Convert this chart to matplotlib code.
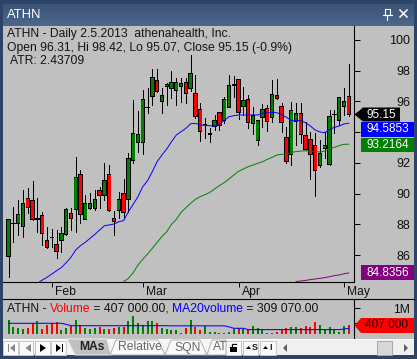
import numpy as np
import matplotlib
matplotlib.use("Agg")
import matplotlib.pyplot as plt
from matplotlib.patches import Polygon, Rectangle

plt.rcParams['font.family'] = ['Liberation Sans', 'DejaVu Sans']

opens = [85.89,88.06,88.06,87.85,89.69,89.52,88.35,88.54,86.91,87.16,86.70,86.94,87.35,88.71,88.98,91.21,88.32,89.04,89.04,90.17,89.87,91.21,88.39,88.89,89.97,89.63,
         92.19,93.32,93.32,95.59,96.31,97.33,95.99,96.96,96.85,96.70,96.96,97.24,96.85,96.53,95.49,94.49,93.88,94.36,95.27,94.79,95.62,97.07,97.40,95.70,96.14,94.57,93.45,94.97,95.55,94.97,96.38,95.66,93.66,92.58,94.68,95.23,93.75,93.49,93.14,91.82,92.93,91.90,95.14,94.75,95.70,96.31]
highs = [88.30,89.15,89.58,90.23,90.34,90.82,89.69,88.82,87.85,87.67,87.63,87.85,89.04,89.04,92.40,91.54,89.91,90.02,90.23,90.45,91.97,91.86,88.89,90.13,90.95,92.62,
         96.09,95.38,96.74,96.85,98.11,98.11,96.90,97.18,97.98,97.50,97.50,97.50,99.02,97.72,95.88,94.90,94.25,95.12,95.27,96.31,97.72,97.66,97.44,96.92,96.42,95.66,94.75,95.83,95.77,97.40,97.44,95.88,94.31,95.99,95.88,95.92,94.68,94.03,93.92,93.49,94.03,95.44,95.44,96.31,96.85,98.42]
lows = [84.59,86.87,87.30,87.20,88.71,88.28,87.48,86.65,86.44,86.54,85.79,86.22,87.30,87.63,87.52,88.06,88.32,88.98,88.93,89.04,89.58,88.89,87.30,88.39,88.39,88.82,
        92.01,92.73,92.58,95.23,95.77,96.59,95.27,95.77,96.20,95.77,95.99,95.88,96.70,94.90,93.45,93.60,93.38,94.14,94.14,94.62,95.62,96.31,94.84,95.12,94.25,93.88,93.16,94.36,94.10,94.68,96.16,94.03,91.97,91.86,93.16,93.27,92.84,90.93,89.84,91.75,92.30,91.86,93.92,94.47,95.12,95.07]
closes = [88.28,88.06,88.61,89.37,89.11,88.32,88.35,87.41,86.48,87.15,86.22,87.41,88.98,88.39,91.06,88.65,89.37,89.37,89.63,89.87,90.82,88.89,88.17,89.63,88.76,92.30,
          93.92,93.81,96.09,95.59,97.57,96.64,96.35,97.11,97.24,97.24,97.18,96.53,97.83,95.05,94.08,94.49,93.88,94.75,94.47,96.09,97.00,97.07,95.27,96.05,94.64,95.07,94.73,95.49,94.68,96.46,96.20,94.64,92.08,95.40,95.23,93.88,92.88,92.56,91.49,92.62,93.10,95.03,95.14,96.27,96.01,95.15]

ma_blue = [84.16,84.37,84.55,84.76,84.98,85.18,85.50,85.85,86.33,86.61,86.83,87.09,87.35,87.63,87.91,87.96,88.02,88.17,88.24,88.82,89.30,89.80,90.45,90.84,
           91.43,92.08,92.51,92.90,93.38,93.81,94.03,94.25,94.55,94.57,94.47,94.44,94.42,94.40,94.53,94.75,95.01,95.07,95.12,95.12,95.12,95.12,95.12,95.23,95.27,95.27,95.27,95.12,94.97,94.75,94.75,94.75,94.62,94.40,94.14,94.01,93.97,94.18,94.31,94.40,94.53,94.5853]
ma_green = [84.27,84.48,84.85,85.35,85.72,86.07,86.44,86.83,87.20,87.52,88.00,88.32,88.78,89.08,89.37,89.63,89.80,89.93,90.08,90.30,90.52,90.71,90.95,91.21,91.45,91.60,91.75,91.86,91.97,92.08,92.23,92.36,92.51,92.56,92.58,92.69,92.73,92.77,92.79,92.77,92.73,92.71,92.77,92.92,93.01,93.12,93.21,93.2164]
ma_purple = [84.27,84.31,84.35,84.40,84.44,84.48,84.53,84.59,84.66,84.70,84.78,84.8356]

volume_k = [597,367,310,286,310,482,562,286,424,482,540,252,332,402,597,424,310,286,332,344,286,286,332,344,367,574,735,482,424,574,574,482,310,286,252,252,160,332,597,367,252,390,
            172,172,160,160,194,286,310,286,286,390,332,252,160,160,194,286,332,367,344,310,390,344,528,424,286,344,275,194,390,407]
ma_volume_k = [483]*12 + [448] + [400]*21 + [395]*12 + [360,310,310,310] + [265]*20 + [285,309.07]

month_labels = ['Feb', 'Mar', 'Apr', 'May']
month_bars = [9, 28, 48, 70]
price_ticks = [86, 88, 90, 92, 94, 96, 98, 100]
hidden_price_labels = [94]
volume_ticks = [500, 1000]
volume_tick_labels = ['', '1M']
volume_floor = 114
last_close, last_ma20, last_ma50, last_ma200, last_vol = 95.15, 94.5853, 93.2164, 84.8356, 407

W, H = 417, 359
BG = '#c0c0c0'
UP, DOWN = '#008000', '#ff0000'
fs = 8.75
n = len(opens)
x = np.arange(n)

fig = plt.figure(figsize=(W/100, H/100), dpi=100, facecolor='#2e4466')

def box(l, t, r, b):
    return [l/W, 1-b/H, (r-l)/W, (b-t)/H]

# frame and window chrome in pixel coordinates
deco = fig.add_axes([0, 0, 1, 1], zorder=0)
deco.set_xlim(0, W); deco.set_ylim(H, 0); deco.axis('off')
grad = np.linspace(0, 1, 24)[:, None]
deco.imshow(grad, extent=(3, 414, 26, 4), cmap=matplotlib.colors.LinearSegmentedColormap.from_list('t', ['#3d5378', '#4c668c']),
            aspect='auto', zorder=1)
deco.set_xlim(0, W); deco.set_ylim(H, 0)
deco.add_patch(Rectangle((3, 26), 411, 314, fc=BG, ec='none', zorder=1))
deco.add_patch(Rectangle((3, 339), 411, 16, fc='#f4f4f4', ec='none', zorder=1))
deco.text(7, 15.5, 'ATHN', color='white', fontsize=9.4, va='center', ha='left', zorder=3)
# close and pin glyphs
deco.plot([400, 407], [10, 17], color='white', lw=1.1, zorder=3)
deco.plot([407, 400], [10, 17], color='white', lw=1.1, zorder=3)
deco.plot([385, 390, 390, 385, 385], [9, 9, 15, 15, 9], color='white', lw=0.8, zorder=3)
deco.plot([383, 392], [15, 15], color='white', lw=0.8, zorder=3)
deco.plot([387.5, 387.5], [15, 20], color='white', lw=0.8, zorder=3)

# main price axes
ppx = 15.36
ax = fig.add_axes(box(3, 26, 353.5, 282), zorder=2)
ax.set_facecolor('none')
ax.set_xlim(-1.18, 72.0)
ax.set_ylim(100 - (282-40)/ppx, 100 + (40-26)/ppx)
for s in ('left', 'top'):
    ax.spines[s].set_visible(False)
for s in ('right', 'bottom'):
    ax.spines[s].set_linewidth(0.8)
ax.yaxis.tick_right()
ax.set_yticks(price_ticks)
ax.set_yticklabels(['' if v in hidden_price_labels else str(v) for v in price_ticks], ha='right', fontsize=9.0, color='#101010')
ax.tick_params(axis='y', length=4, width=0.7, pad=37, direction='out')
ax.set_xticks(month_bars)
ax.set_xticklabels([])
ax.tick_params(axis='x', length=3.5, width=0.7, direction='out')
for m, lab in zip(month_bars, month_labels):
    ax.annotate(lab, xy=(m, 0), xycoords=('data', 'axes fraction'), xytext=(2.5, -3), textcoords='offset points',
                ha='left', va='top', fontsize=fs, color='#101010', annotation_clip=False)

PX = (72.0 + 1.18) / 350.5      # one pixel in bar units
PY = 1 / ppx                    # one pixel in price units
o, h, l, c = map(np.array, (opens, highs, lows, closes))
up = c >= o
lo_body, hi_body = np.minimum(o, c), np.maximum(o, c)
ax.vlines(x, l, h, color='black', lw=0.6, zorder=3, antialiased=False)
ax.bar(x, hi_body - lo_body + 1.4*PY, bottom=lo_body - 0.7*PY, width=4.4*PX, color='black', linewidth=0, zorder=4, antialiased=False)
fill = hi_body - lo_body - 0.6*PY
ax.bar(x, np.clip(fill, 0, None), bottom=lo_body + 0.3*PY, width=2.7*PX, color=[UP if u else DOWN for u in up],
       linewidth=0, zorder=5, antialiased=False)
ax.plot(x[-len(ma_blue):], ma_blue, color='#0000ff', lw=0.7, zorder=6)
ax.plot(x[-len(ma_green):], ma_green, color='#008000', lw=0.7, zorder=6)
ax.plot(x[-len(ma_purple):], ma_purple, color='#800080', lw=0.7, zorder=6)

tc = '#141414'
deco.text(7, 33.5, 'ATHN - Daily 2.5.2013  athenahealth, Inc.', fontsize=fs, color=tc, va='center', zorder=6)
deco.text(7, 47.5, 'Open 96.31, Hi 98.42, Lo 95.07, Close 95.15 (-0.9%)', fontsize=fs, color=tc, va='center', zorder=6)
deco.text(10, 61.5, 'ATR: 2.43709', fontsize=fs, color=tc, va='center', zorder=6)

# value tags
tagfs = 8.5
over = fig.add_axes([0, 0, 1, 1], zorder=5)
over.set_xlim(0, W); over.set_ylim(H, 0); over.axis('off'); over.patch.set_visible(False)
over.add_patch(Polygon([(354.5, 114.5), (363, 107.5), (400, 107.5), (400, 121.5), (363, 121.5)], fc='black', ec='none'))
over.text(381, 114.5, f'{last_close:.2f}', color='white', fontsize=tagfs, ha='center', va='center')
over.add_patch(Rectangle((361, 122), 53, 14.5, fc='#0000ff', ec='none'))
over.text(387.5, 129.5, f'{last_ma20:.4f}', color='white', fontsize=tagfs, ha='center', va='center')
over.add_patch(Rectangle((361, 137.5), 53, 14.5, fc='#008000', ec='none'))
over.text(387.5, 144.5, f'{last_ma50:.4f}', color='white', fontsize=tagfs, ha='center', va='center')
over.add_patch(Rectangle((361, 265), 53, 15, fc='#800080', ec='none'))
over.text(387.5, 272.5, f'{last_ma200:.4f}', color='white', fontsize=tagfs, ha='center', va='center')
over.add_patch(Polygon([(354.5, 325.5), (361, 318), (414, 318), (414, 333), (361, 333)], fc='#ff0000', ec='none'))
over.text(387, 325.5, f'{last_vol} 000', color='#200000', fontsize=tagfs, ha='center', va='center')

# volume axes
vax = fig.add_axes(box(3, 299, 353.5, 339), zorder=2)
vax.set_facecolor('none')
scale = 29 / 1000               # pixels per thousand shares
vax.set_xlim(-1.18, 72.0)
vax.set_ylim(-(339-337.3)/scale, (337.3-299)/scale)
for s in ('left', 'bottom'):
    vax.spines[s].set_visible(False)
vax.spines['top'].set_linewidth(0.8)
vax.spines['right'].set_linewidth(0.8)
vax.yaxis.tick_right()
vax.set_yticks(volume_ticks)
vax.set_yticklabels(volume_tick_labels, ha='right', fontsize=fs, color='#101010')
vax.tick_params(axis='y', length=4, width=0.7, pad=37)
vax.set_xticks([])
v = np.array(volume_k, float)
vax.bar(x, v - volume_floor, bottom=volume_floor, width=2*PX, color=[UP if u else DOWN for u in up], linewidth=0, antialiased=False, zorder=2)
vax.plot(x, ma_volume_k, color='#0000ff', lw=0.75, zorder=3)

# separator continuing to right edge
over.plot([353.5, 414], [299, 299], color='black', lw=0.8)

# coloured legend line
fig.canvas.draw()
rend = fig.canvas.get_renderer()
cx = 7
for txt, col in [('ATHN - ', tc), ('Volume', '#ff0000'), (' = 407 000.00, ', tc), ('MA20volume', '#0000ff'), (' = 309 070.00', tc)]:
    t = over.text(cx, 308.5, txt, color=col, fontsize=fs, va='center', ha='left')
    w, _, _ = rend.get_text_width_height_descent(txt, t.get_fontproperties(), False)
    cx += w

# bottom tab bar
over.add_patch(Rectangle((3, 339), 411, 1, fc='white', ec='none'))
for l_, r_ in [(3.5, 18), (19, 33.5), (35, 50), (51.5, 66.5)]:
    over.add_patch(Rectangle((l_, 340.5), r_-l_, 14, fc='#fafafa', ec='#c8c8c8', lw=0.7))
over.add_patch(Rectangle((8, 344), 1.2, 8, fc='#888888', ec='none'))
over.add_patch(Polygon([(15, 344), (15, 352), (10, 348)], fc='#888888', ec='none'))
over.add_patch(Polygon([(31, 344), (31, 352), (25.5, 348)], fc='#888888', ec='none'))
over.add_patch(Polygon([(40, 344), (40, 352), (46, 348)], fc='black', ec='none'))
over.add_patch(Polygon([(56, 344), (56, 352), (61, 348)], fc='black', ec='none'))
over.add_patch(Rectangle((62, 344), 1.2, 8, fc='black', ec='none'))
over.add_patch(Polygon([(67, 339), (107, 339), (111, 355), (75, 355)], fc=BG, ec='#eeeeee', lw=0.7))
over.text(79.5, 347.5, 'MAs', fontsize=fs, fontweight='bold', color='#222222', va='center')
over.add_patch(Polygon([(110, 355), (116, 340), (158, 340), (165, 355)], fc='#fafafa', ec='#b0b0b0', lw=0.7))
over.text(118.5, 347.5, 'Relative', fontsize=fs, color='#666666', va='center')
over.add_patch(Polygon([(165, 355), (171, 340), (200, 340), (207, 355)], fc='#fafafa', ec='#b0b0b0', lw=0.7))
over.text(174, 347.5, 'SQN', fontsize=fs, color='#666666', va='center')
over.add_patch(Polygon([(207, 355), (212, 340), (226, 340), (226, 355)], fc='#fafafa', ec='#b0b0b0', lw=0.7))
over.text(213, 347.5, 'AT', fontsize=fs, color='#666666', va='center')
for l_, r_ in [(226, 241), (243, 258), (260, 276)]:
    over.add_patch(Rectangle((l_, 340.5), r_-l_, 14, fc='#fafafa', ec='#c8c8c8', lw=0.7))
over.add_patch(Rectangle((230.5, 347), 7, 5, fc='black', ec='none'))
over.plot([232, 232, 236.5], [347, 344, 344], color='black', lw=0.9)
over.add_patch(Polygon([(246, 349), (251, 349), (248.5, 346)], fc='black', ec='none'))
over.text(252, 347.8, 'S', fontsize=6.5, fontweight='bold', color='#222222', va='center')
over.add_patch(Polygon([(263, 349), (268, 349), (265.5, 346)], fc='black', ec='none'))
over.text(269, 347.8, 'I', fontsize=6.5, fontweight='bold', color='#222222', va='center')
over.add_patch(Rectangle((277, 340), 137, 15, fc='#f0f0f0', ec='none'))
over.add_patch(Polygon([(287, 344), (287, 352), (283, 348)], fc='#606060', ec='none'))
over.add_patch(Polygon([(404, 344), (404, 352), (408, 348)], fc='#606060', ec='none'))
over.add_patch(Rectangle((377, 340.5), 15, 14, fc='#d8d8d8', ec='#a8a8a8', lw=0.7))

fig.savefig('out.png', dpi=100, facecolor=fig.get_facecolor())
